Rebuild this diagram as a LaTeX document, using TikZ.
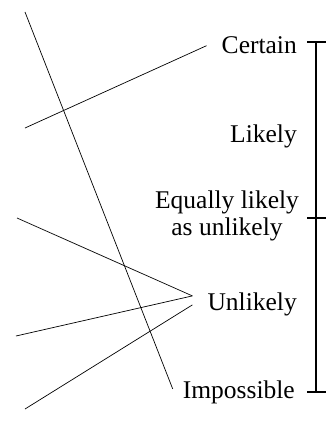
\documentclass[tikz,border=0pt]{standalone}
\usepackage{fontspec}
\setmainfont{Liberation Serif}
\usetikzlibrary{calc}
\tikzset{
  lbl/.style={inner sep=0pt,anchor=base east},
  ray/.style={line width=0.7pt},
  bar/.style={line width=1.1pt}
}
\begin{document}
\begin{tikzpicture}[x=1pt,y=-1pt]
\useasboundingbox (0,0) rectangle (329,436);
\fontsize{25.5}{27}\selectfont
% labels
\node[lbl] (cert) at (297,53) {Certain};
\node[lbl] (lik) at (297,142) {Likely};
\node[inner sep=0pt,align=center] (eq) at (227,216) {Equally likely\\as unlikely};
\node[lbl] (unl) at (297,310) {Unlikely};
\node[lbl] (imp) at (295,398) {Impossible};
% scale
\coordinate (top) at (316,42);
\coordinate (mid) at (316,218);
\coordinate (bot) at (316,392);
\draw[bar] (top) -- (bot);
\foreach \p in {top,mid,bot}
  \draw[bar] ([xshift=-9pt]\p) -- ([xshift=10pt]\p);
% rays
\coordinate (r1) at (25,12);
\coordinate (r2) at (25,128);
\coordinate (r3) at (17,218);
\coordinate (r4) at (16,336);
\coordinate (r5) at (25,409);
\draw[ray] (r1) -- ($(imp.west)+(-10,-3)$);
\draw[ray] (r2) -- ($(cert.west)+(-15,1)$);
\draw[ray] (r3) -- ($(unl.west)+(-15,-8)$);
\draw[ray] (r4) -- ($(unl.west)+(-15,-8)$);
\draw[ray] (r5) -- ($(unl.west)+(-15,1)$);
\end{tikzpicture}
\end{document}
